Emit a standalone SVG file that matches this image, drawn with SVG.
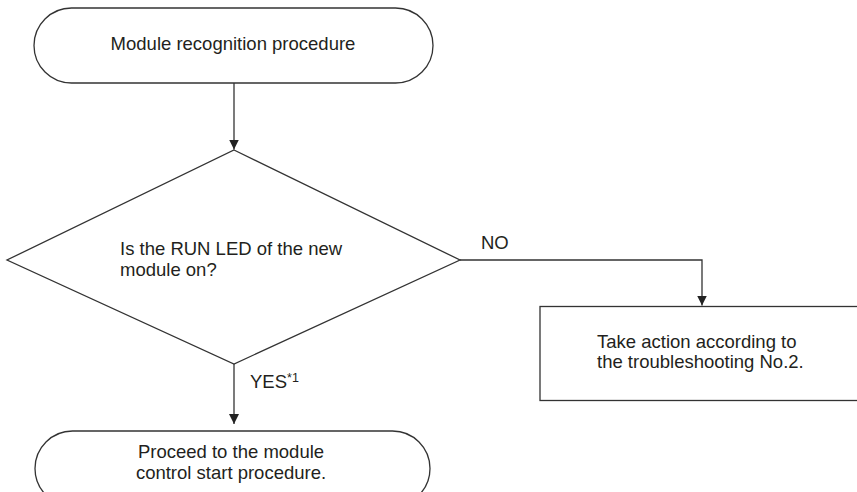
<svg xmlns="http://www.w3.org/2000/svg" width="857" height="492" viewBox="0 0 857 492">
<style>
.shape{fill:#fff;stroke:#333;stroke-width:1.3}
.conn{fill:none;stroke:#333;stroke-width:1.3}
text{font-family:"Liberation Sans",Arial,sans-serif;font-size:18.5px;fill:#231f20}
.mid{text-anchor:middle}
</style>
<defs>
<marker id="arr" markerWidth="10" markerHeight="10" viewBox="0 0 10 10" refX="10" refY="5" orient="auto" markerUnits="userSpaceOnUse">
<path d="M0,0 L10,5 L0,10 Z" fill="#222"/>
</marker>
</defs>
<g id="start">
<rect class="shape" x="34" y="8" width="399" height="75" rx="37.5" ry="37.5"/>
<text class="mid" x="233" y="50">Module recognition procedure</text>
</g>
<g id="decision">
<polygon class="shape" points="234,150 460,260 234,364 7,260"/>
<text x="120" y="255">Is the RUN LED of the new</text>
<text x="120" y="276">module on?</text>
</g>
<g id="action">
<rect class="shape" x="540" y="306.5" width="330" height="94"/>
<text x="597" y="348">Take action according to</text>
<text x="597" y="368">the troubleshooting No.2.</text>
</g>
<g id="end">
<rect class="shape" x="35" y="431" width="395" height="75" rx="37.5" ry="37.5"/>
<text class="mid" x="231" y="458">Proceed to the module</text>
<text class="mid" x="231" y="479">control start procedure.</text>
</g>
<g id="connectors">
<line class="conn" x1="234" y1="83" x2="234" y2="149.5" marker-end="url(#arr)"/>
<polyline class="conn" points="460,260 702,260 702,305.5" marker-end="url(#arr)"/>
<line class="conn" x1="234" y1="364" x2="234" y2="424" marker-end="url(#arr)"/>
<text x="481" y="249">NO</text>
<text x="250" y="388">YES<tspan font-size="12.5" dy="-6">*1</tspan></text>
</g>
</svg>
